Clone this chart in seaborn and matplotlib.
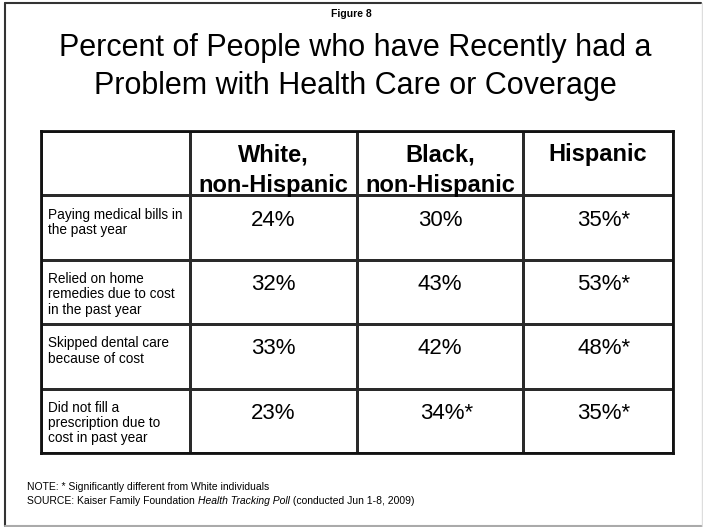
import numpy as np
import pandas as pd
import seaborn as sns
import matplotlib
matplotlib.use("Agg")
import matplotlib.pyplot as plt
from matplotlib.colors import ListedColormap
from matplotlib.lines import Line2D

# ---- data ----
groups = ["White,\nnon-Hispanic", "Black,\nnon-Hispanic", "Hispanic"]
problems = [
    "Paying medical bills in\nthe past year",
    "Relied on home\nremedies due to cost\nin the past year",
    "Skipped dental care\nbecause of cost",
    "Did not fill a\nprescription due to\ncost in past year",
]
white_vals = [24, 32, 33, 23]
black_vals = [30, 43, 42, 34]
hispanic_vals = [35, 53, 48, 35]
white_sig = [False, False, False, False]
black_sig = [False, False, False, True]
hispanic_sig = [True, True, True, True]

title = "Percent of People who have Recently had a\nProblem with Health Care or Coverage"
fig_label = "Figure 8"
note = "NOTE: * Significantly different from White individuals"
source_parts = ["SOURCE: Kaiser Family Foundation ", "Health Tracking Poll", " (conducted Jun 1-8, 2009)"]

sns.set_theme(style="white")
plt.rcParams["font.family"] = ["Liberation Sans", "DejaVu Sans"]
plt.rcParams["text.color"] = "black"

W, H = 703, 527
fig = plt.figure(figsize=(W / 100, H / 100), dpi=100)
fig.patch.set_facecolor("white")

# table grid: header row + 4 rows, label column + 3 value columns
nrows = len(problems) + 1
ncols = len(groups) + 1
grid = pd.DataFrame(np.zeros((nrows, ncols)))

tl, tr, tt, tb = 41, 673, 131, 453
ax = fig.add_axes([tl / W, 1 - tb / H, (tr - tl) / W, (tb - tt) / H])
sns.heatmap(grid, ax=ax, cmap=ListedColormap(["white"]), cbar=False,
            linewidths=0.8, linecolor="#2a2a2a", xticklabels=False, yticklabels=False)

# non-uniform column widths via piecewise linear scale
col_px = np.array([41, 190, 357, 523, 673], dtype=float)
col_u = np.arange(ncols + 1, dtype=float)
col_n = (col_px - col_px[0]) / (col_px[-1] - col_px[0]) * ncols

def fwd(x):
    return np.interp(x, col_u, col_n)

def inv(x):
    return np.interp(x, col_n, col_u)

ax.set_xscale("function", functions=(fwd, inv))
ax.set_xlim(0, ncols)
ax.set_ylim(nrows, 0)
ax.set_xticks([])
ax.set_yticks([])
ax.minorticks_off()

for s in ax.spines.values():
    s.set_visible(True)
    s.set_linewidth(2.0)
    s.set_color("#111111")

# header
for j, g in enumerate(groups):
    ax.text(j + 1.5, 0.19, g, ha="center", va="top", fontsize=17, fontweight="bold",
            linespacing=1.42, color="black")

# rows
cols_vals = [white_vals, black_vals, hispanic_vals]
cols_sig = [white_sig, black_sig, hispanic_sig]
for i, p in enumerate(problems):
    r = i + 1
    ax.text(0.05, r + 0.19, p, ha="left", va="top", fontsize=9.8, linespacing=1.12, color="black")
    for j in range(len(groups)):
        v = cols_vals[j][i]
        s = f"{v}%" + ("*" if cols_sig[j][i] else "")
        x = j + 1.5 + (0.04 if cols_sig[j][i] else 0)
        ax.text(x, r + 0.22, s, ha="center", va="top", fontsize=16, color="black")

# titles
fig.text(0.5, 1 - 9 / H, fig_label, ha="center", va="top", fontsize=7.5, fontweight="bold", color="black")
fig.text(355 / W, 1 - 33 / H, title, ha="center", va="top", fontsize=22, linespacing=1.33, color="black")

# footnotes
fig.text(27 / W, 1 - 482 / H, note, ha="left", va="top", fontsize=7.5, color="black")
renderer = fig.canvas.get_renderer()
x0 = 27 / W
y0 = 1 - 496 / H
for k, part in enumerate(source_parts):
    t = fig.text(x0, y0, part, ha="left", va="top", fontsize=7.5, color="black",
                 fontstyle="italic" if k == 1 else "normal")
    bb = t.get_window_extent(renderer)
    x0 += bb.width / W

# outer frame
fig.add_artist(Line2D([5 / W, 701 / W], [1 - 3 / H, 1 - 3 / H], color="#333333", lw=1.5))
fig.add_artist(Line2D([5 / W, 5 / W], [1 - 3 / H, 1 - 526 / H], color="#333333", lw=1.5))
fig.add_artist(Line2D([5 / W, 702 / W], [1 - 525.5 / H, 1 - 525.5 / H], color="#aaaaaa", lw=1.5))
fig.add_artist(Line2D([701.5 / W, 701.5 / W], [1 - 3 / H, 1 - 526 / H], color="#dddddd", lw=1.0))

fig.savefig("out.png", dpi=100, facecolor="white")
